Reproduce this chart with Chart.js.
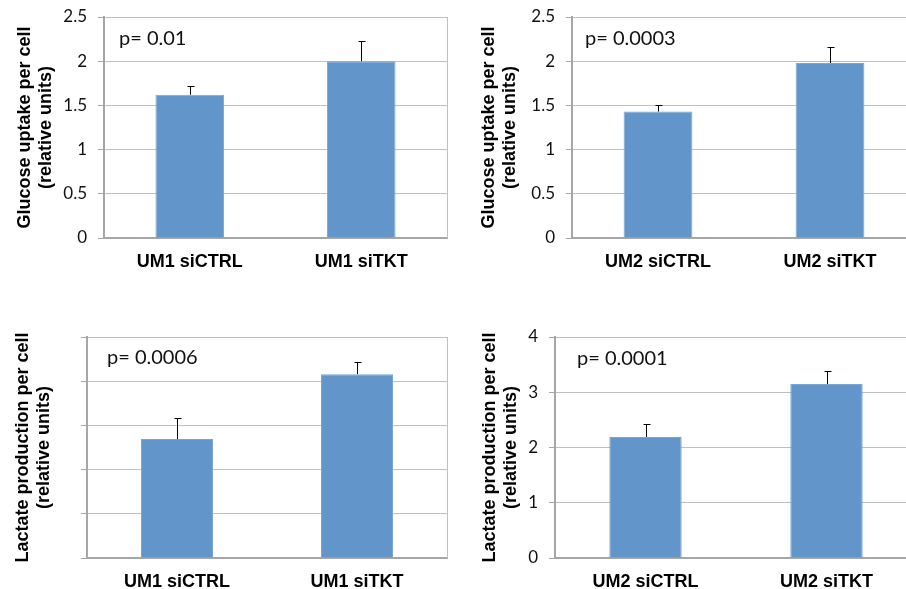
<!DOCTYPE html>
<html>
<head>
<meta charset="utf-8">
<script src="https://cdn.jsdelivr.net/npm/chart.js@4.4.0/dist/chart.umd.min.js"></script>
<style>
  html, body { margin:0; padding:0; background:#fff; }
  body { width:906px; height:589px; overflow:hidden; position:relative; }
  canvas { position:absolute; }
</style>
</head>
<body>
<canvas id="c1" width="453" height="290" style="left:0px;top:0px;"></canvas>
<canvas id="c2" width="470" height="290" style="left:453px;top:0px;"></canvas>
<canvas id="c3" width="453" height="310" style="left:0px;top:290px;"></canvas>
<canvas id="c4" width="470" height="310" style="left:453px;top:290px;"></canvas>
<script>
// ---- data ----
const categoriesUM1 = ['UM1 siCTRL', 'UM1 siTKT'];
const categoriesUM2 = ['UM2 siCTRL', 'UM2 siTKT'];

const glucoseUM1 = [1.62, 2.00];
const glucoseUM1Err = [0.10, 0.23];
const glucoseUM2 = [1.43, 1.98];
const glucoseUM2Err = [0.07, 0.18];

const lactateUM1 = [2.69, 4.16];
const lactateUM1Err = [0.48, 0.27];
const lactateUM2 = [2.19, 3.15];
const lactateUM2Err = [0.24, 0.23];

const pValues = ['p= 0.01', 'p= 0.0003', 'p= 0.0006', 'p= 0.0001'];

const glucoseTicks = ['0', '0.5', '1', '1.5', '2', '2.5'];
const lactateUM1Ticks = ['', '', '', '', '', ''];
const lactateUM2Ticks = ['0', '1', '2', '3', '4'];

const glucoseTitle = ['Glucose uptake per cell', '(relative units)'];
const lactateTitle = ['Lactate production per cell', '(relative units)'];

// ---- plugins ----
const errorBarPlugin = {
  id: 'errorBars',
  afterDatasetsDraw(chart, args, opts) {
    const ctx = chart.ctx;
    const xs = chart.scales.x, ys = chart.scales.y;
    const data = chart.data.datasets[0].data;
    ctx.save();
    ctx.strokeStyle = '#000';
    ctx.lineWidth = 1;
    data.forEach((v, i) => {
      const x = Math.round(xs.getPixelForValue(i)) + 0.5;
      const y0 = ys.getPixelForValue(v);
      const y1 = Math.round(ys.getPixelForValue(v + opts.errors[i])) + 0.5;
      ctx.beginPath();
      ctx.moveTo(x, y0);
      ctx.lineTo(x, y1);
      ctx.moveTo(x - opts.cap, y1);
      ctx.lineTo(x + opts.cap + 1, y1);
      ctx.stroke();
    });
    ctx.restore();
  }
};
const framePlugin = {
  id: 'frame',
  beforeDatasetsDraw(chart) {
    const {ctx, chartArea} = chart;
    ctx.save();
    ctx.strokeStyle = '#c0c0c0';
    ctx.lineWidth = 1;
    ctx.beginPath();
    const x = Math.round(chartArea.right) + 0.5;
    ctx.moveTo(x, chartArea.top);
    ctx.lineTo(x, chartArea.bottom);
    ctx.stroke();
    ctx.restore();
  }
};
const pLabelPlugin = {
  id: 'pLabel',
  afterDraw(chart, args, opts) {
    const {ctx, chartArea} = chart;
    ctx.save();
    ctx.font = '20px Lato';
    ctx.fillStyle = '#111';
    ctx.textBaseline = 'alphabetic';
    ctx.textAlign = 'left';
    ctx.fillText(opts.text, chartArea.left + opts.dx, chartArea.top + opts.dy);
    ctx.restore();
  }
};

function makeChart(id, g) {
  const canvas = document.getElementById(id);
  return new Chart(canvas, {
    type: 'bar',
    data: {
      labels: g.labels,
      datasets: [{
        data: g.values,
        backgroundColor: '#6296CA',
        borderColor: '#7aa6d3',
        borderWidth: 1,
        categoryPercentage: 0.8,
        barPercentage: 0.5
      }]
    },
    options: {
      responsive: false,
      animation: false,
      devicePixelRatio: 1,
      layout: { padding: { left: 0, top: g.top, right: canvas.width - g.right, bottom: 0 } },
      plugins: {
        legend: { display: false },
        tooltip: { enabled: false },
        errorBars: { errors: g.errors, cap: 3 },
        pLabel: { text: g.pText, dx: g.pdx, dy: g.pdy }
      },
      scales: {
        x: {
          grid: { display: false, drawTicks: false },
          border: { display: true, color: '#a6a6a6', width: 2 },
          ticks: { padding: 13, color: '#000', font: { family: 'Liberation Sans', size: 18, weight: 'bold' } },
          afterFit(s) { s.height = canvas.height - g.bottom; }
        },
        y: {
          min: 0, max: g.max,
          ticks: {
            stepSize: g.step, padding: 11, color: '#111',
            font: { family: 'Lato', size: 17 },
            callback: (v, i) => g.ticks[i]
          },
          grid: { color: '#c0c0c0', lineWidth: 1, tickLength: 6, tickColor: '#a6a6a6' },
          border: { display: true, color: '#a6a6a6', width: 2 },
          title: {
            display: true, text: g.title, color: '#000',
            font: { family: 'Liberation Sans', size: 18, weight: 'bold', lineHeight: 1.2 },
            padding: { top: g.tpad, bottom: 0 }
          },
          afterFit(s) { s.width = g.left; s.paddingTop = 0; s.paddingBottom = 0; }
        }
      }
    },
    plugins: [framePlugin, errorBarPlugin, pLabelPlugin]
  });
}

makeChart('c1', { labels: categoriesUM1, values: glucoseUM1, errors: glucoseUM1Err, ticks: glucoseTicks,
  title: glucoseTitle, max: 2.5, step: 0.5, left: 104, right: 447, top: 17, bottom: 238, tpad: 14,
  pText: pValues[0], pdx: 15, pdy: 28 });
makeChart('c2', { labels: categoriesUM2, values: glucoseUM2, errors: glucoseUM2Err, ticks: glucoseTicks,
  title: glucoseTitle, max: 2.5, step: 0.5, left: 119, right: 463, top: 17, bottom: 238, tpad: 25,
  pText: pValues[1], pdx: 13, pdy: 28 });
makeChart('c3', { labels: categoriesUM1, values: lactateUM1, errors: lactateUM1Err, ticks: lactateUM1Ticks,
  title: lactateTitle, max: 5, step: 1, left: 87, right: 447, top: 47, bottom: 268, tpad: 12,
  pText: pValues[2], pdx: 20, pdy: 27 });
makeChart('c4', { labels: categoriesUM2, values: lactateUM2, errors: lactateUM2Err, ticks: lactateUM2Ticks,
  title: lactateTitle, max: 4, step: 1, left: 102, right: 464, top: 47, bottom: 268, tpad: 26,
  pText: pValues[3], pdx: 22, pdy: 28 });
</script>
</body>
</html>
